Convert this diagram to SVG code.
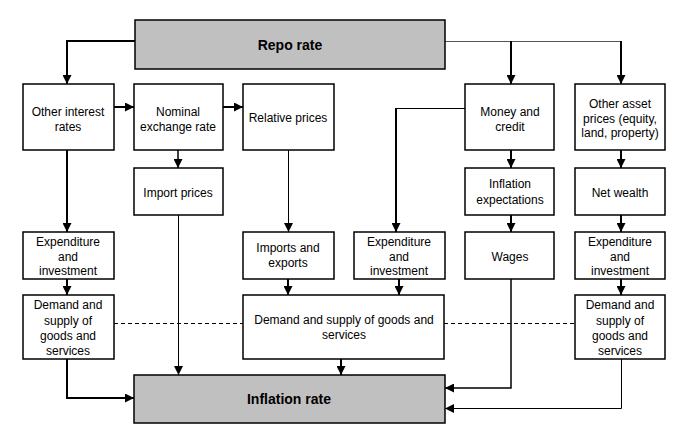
<svg xmlns="http://www.w3.org/2000/svg" width="684" height="441" viewBox="0 0 684 441">
<style>
.box{fill:#fff;stroke:#000;stroke-width:1.5}
.key{fill:#c0c0c0;stroke:#000;stroke-width:1.5}
text{font-family:"Liberation Sans",Arial,sans-serif;font-size:12px;text-anchor:middle;fill:#000}
.b{font-weight:bold;font-size:14px}
.c{fill:none;stroke:#000}
.t{stroke-width:2}
.m{stroke-width:1.5}
.n{stroke-width:1}
.g{stroke:#555;stroke-width:1}
.d{stroke-dasharray:4,3;stroke-width:1}
</style>
<defs>
<marker id="ah" viewBox="0 0 10 10" refX="10" refY="5" markerWidth="9" markerHeight="9" markerUnits="userSpaceOnUse" orient="auto">
<path d="M0,0 L10,5 L0,10 z" fill="#000"/>
</marker>
</defs>
<g id="connectors">
<path class="c t" d="M135,41 H67 V84" marker-end="url(#ah)"/>
<path class="c g" d="M445,41.5 H621"/>
<path class="c t" d="M511,41 V84" marker-end="url(#ah)"/>
<path class="c t" d="M621,41 V84" marker-end="url(#ah)"/>
<path class="c t" d="M114,107 H134" marker-end="url(#ah)"/>
<path class="c t" d="M223,107 H243" marker-end="url(#ah)"/>
<path class="c m" d="M178,150 V168" marker-end="url(#ah)"/>
<path class="c t" d="M511,150 V168" marker-end="url(#ah)"/>
<path class="c t" d="M621,150 V168" marker-end="url(#ah)"/>
<path class="c t" d="M67,150 V232" marker-end="url(#ah)"/>
<path class="c n" d="M288.5,150 V232" marker-end="url(#ah)"/>
<path class="c n" d="M465,108.5 H396"/>
<path class="c t" d="M396,108 V232" marker-end="url(#ah)"/>
<path class="c t" d="M511,215 V232" marker-end="url(#ah)"/>
<path class="c t" d="M621,215 V232" marker-end="url(#ah)"/>
<path class="c t" d="M67,279 V295" marker-end="url(#ah)"/>
<path class="c t" d="M288,279 V295" marker-end="url(#ah)"/>
<path class="c t" d="M399,279 V295" marker-end="url(#ah)"/>
<path class="c t" d="M621,279 V295" marker-end="url(#ah)"/>
<path class="c d" d="M114,323.5 H243"/>
<path class="c d" d="M444,323.5 H575"/>
<path class="c t" d="M67,359 V398 H134" marker-end="url(#ah)"/>
<path class="c n" d="M178.5,215 V375" marker-end="url(#ah)"/>
<path class="c t" d="M341,359 V375" marker-end="url(#ah)"/>
<path class="c m" d="M511,279 V388 H445" marker-end="url(#ah)"/>
<path class="c n" d="M621.5,359 V408.5 H445" marker-end="url(#ah)"/>
</g>
<g id="repo"><rect class="key" x="135" y="20" width="310" height="49"/><text class="b" x="290" y="50">Repo rate</text></g>
<g id="other-interest"><rect class="box" x="23" y="84" width="91" height="66"/><text x="68" y="116">Other interest</text><text x="68" y="131">rates</text></g>
<g id="nominal"><rect class="box" x="134" y="84" width="89" height="66"/><text x="178" y="116">Nominal</text><text x="178" y="131">exchange rate</text></g>
<g id="relative"><rect class="box" x="243" y="84" width="91" height="66"/><text x="288" y="122">Relative prices</text></g>
<g id="money"><rect class="box" x="465" y="84" width="89" height="66"/><text x="510" y="116">Money and</text><text x="510" y="131">credit</text></g>
<g id="asset"><rect class="box" x="575" y="84" width="90" height="66"/><text x="620" y="108">Other asset</text><text x="620" y="123">prices (equity,</text><text x="620" y="137">land, property)</text></g>
<g id="import"><rect class="box" x="134" y="168" width="89" height="47"/><text x="178" y="197">Import prices</text></g>
<g id="expectations"><rect class="box" x="465" y="168" width="89" height="47"/><text x="510" y="188">Inflation</text><text x="510" y="204">expectations</text></g>
<g id="wealth"><rect class="box" x="575" y="168" width="90" height="47"/><text x="620" y="197">Net wealth</text></g>
<g id="exp-left"><rect class="box" x="23" y="232" width="91" height="47"/><text x="68" y="246">Expenditure</text><text x="68" y="261">and</text><text x="68" y="275">investment</text></g>
<g id="imports-exports"><rect class="box" x="243" y="232" width="91" height="47"/><text x="288" y="252">Imports and</text><text x="288" y="267">exports</text></g>
<g id="exp-mid"><rect class="box" x="354" y="232" width="91" height="47"/><text x="399" y="246">Expenditure</text><text x="399" y="261">and</text><text x="399" y="275">investment</text></g>
<g id="wages"><rect class="box" x="465" y="232" width="89" height="47"/><text x="510" y="261">Wages</text></g>
<g id="exp-right"><rect class="box" x="575" y="232" width="90" height="47"/><text x="620" y="246">Expenditure</text><text x="620" y="261">and</text><text x="620" y="275">investment</text></g>
<g id="demand-left"><rect class="box" x="23" y="295" width="91" height="64"/><text x="68" y="309">Demand and</text><text x="68" y="325">supply of</text><text x="68" y="340">goods and</text><text x="68" y="355">services</text></g>
<g id="demand-mid"><rect class="box" x="243" y="295" width="201" height="64"/><text x="344" y="324">Demand and supply of goods and</text><text x="344" y="339">services</text></g>
<g id="demand-right"><rect class="box" x="575" y="295" width="90" height="64"/><text x="620" y="309">Demand and</text><text x="620" y="325">supply of</text><text x="620" y="340">goods and</text><text x="620" y="355">services</text></g>
<g id="inflation"><rect class="key" x="134" y="375" width="311" height="48"/><text class="b" x="289" y="404">Inflation rate</text></g>
</svg>
